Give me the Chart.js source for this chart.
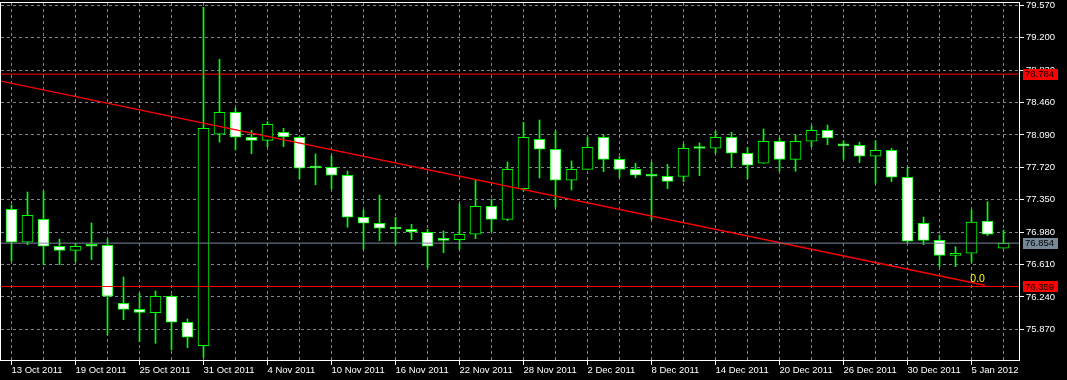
<!DOCTYPE html>
<html>
<head>
<meta charset="utf-8">
<title>Daily candles</title>
<script src="https://cdn.jsdelivr.net/npm/chart.js@4.4.0/dist/chart.umd.min.js"></script>
<style>
    html, body { margin: 0; padding: 0; background: #000; }
    #wrap { width: 1067px; height: 380px; }
</style>
</head>
<body>
<div id="wrap"><canvas id="chart" width="1067" height="380"></canvas></div>
<script>
// trading days, one per candle
const dates = [
    '13 Oct 2011', '14 Oct 2011', '17 Oct 2011', '18 Oct 2011', '19 Oct 2011', '20 Oct 2011', '21 Oct 2011',
    '24 Oct 2011', '25 Oct 2011', '26 Oct 2011', '27 Oct 2011', '28 Oct 2011', '31 Oct 2011',
    '1 Nov 2011', '2 Nov 2011', '3 Nov 2011', '4 Nov 2011', '7 Nov 2011', '8 Nov 2011', '9 Nov 2011',
    '10 Nov 2011', '11 Nov 2011', '14 Nov 2011', '15 Nov 2011', '16 Nov 2011', '17 Nov 2011', '18 Nov 2011',
    '21 Nov 2011', '22 Nov 2011', '23 Nov 2011', '24 Nov 2011', '25 Nov 2011', '28 Nov 2011', '29 Nov 2011',
    '30 Nov 2011', '1 Dec 2011', '2 Dec 2011', '5 Dec 2011', '6 Dec 2011', '7 Dec 2011', '8 Dec 2011',
    '9 Dec 2011', '12 Dec 2011', '13 Dec 2011', '14 Dec 2011', '15 Dec 2011', '16 Dec 2011', '19 Dec 2011',
    '20 Dec 2011', '21 Dec 2011', '22 Dec 2011', '23 Dec 2011', '26 Dec 2011', '27 Dec 2011', '28 Dec 2011',
    '29 Dec 2011', '30 Dec 2011', '2 Jan 2012', '3 Jan 2012', '4 Jan 2012', '5 Jan 2012', '6 Jan 2012',
    '9 Jan 2012'
];

const opens = [
    77.240, 76.864, 77.126, 76.818, 76.772, 76.821, 76.829, 76.167, 76.098, 76.060, 76.247, 75.950, 75.683,
    78.097, 78.348, 78.063, 78.028, 78.120, 78.063, 77.716, 77.720, 77.629, 77.149, 77.081, 77.019, 77.012,
    76.978, 76.890, 76.893, 76.955, 77.275, 77.126, 77.476, 78.040, 77.926, 77.572, 77.697, 78.063, 77.811,
    77.697, 77.621, 77.617, 77.617, 77.937, 77.937, 78.063, 77.880, 77.766, 78.017, 77.811, 78.017, 78.143,
    77.967, 77.971, 77.846, 77.914, 77.606, 77.081, 76.886, 76.715, 76.738, 77.107, 76.795
];
const highs = [
    77.290, 77.438, 77.449, 76.901, 76.852, 77.084, 76.901, 76.467, 76.281, 76.307, 76.262, 75.988, 79.547,
    78.953, 78.394, 78.143, 78.241, 78.165, 78.072, 77.872, 77.849, 77.678, 77.232, 77.404, 77.149, 77.069,
    77.012, 76.993, 77.301, 77.575, 77.355, 77.781, 78.234, 78.260, 78.135, 77.792, 78.063, 78.086, 77.841,
    77.766, 77.777, 77.754, 77.983, 77.998, 78.131, 78.120, 77.948, 78.157, 78.055, 78.089, 78.192, 78.203,
    78.024, 78.006, 78.024, 77.937, 77.720, 77.153, 76.944, 76.813, 77.232, 77.327, 77.004
];
const lows = [
    76.650, 76.836, 76.604, 76.608, 76.642, 76.665, 75.808, 75.980, 75.728, 75.710, 75.634, 75.660, 75.550,
    78.006, 77.918, 77.875, 77.955, 77.955, 77.590, 77.521, 77.472, 77.035, 76.784, 76.882, 76.836, 76.893,
    76.570, 76.745, 76.784, 76.905, 76.985, 77.110, 77.449, 77.598, 77.267, 77.461, 77.697, 77.670, 77.601,
    77.601, 77.126, 77.476, 77.556, 77.624, 77.880, 77.716, 77.590, 77.766, 77.678, 77.674, 77.955, 77.978,
    77.811, 77.773, 77.537, 77.556, 76.859, 76.836, 76.585, 76.585, 76.635, 76.939, 76.795
];
const closes = [
    76.864, 77.172, 76.818, 76.772, 76.818, 76.818, 76.247, 76.098, 76.064, 76.247, 75.950, 75.779, 78.165,
    78.348, 78.063, 78.028, 78.211, 78.066, 77.709, 77.712, 77.629, 77.149, 77.081, 77.024, 77.015, 76.981,
    76.818, 76.886, 76.955, 77.275, 77.126, 77.697, 78.063, 77.926, 77.572, 77.697, 77.948, 77.811, 77.697,
    77.629, 77.618, 77.560, 77.937, 77.935, 78.063, 77.880, 77.743, 78.017, 77.811, 78.017, 78.143, 78.055,
    77.965, 77.846, 77.914, 77.606, 76.875, 76.886, 76.715, 76.738, 77.095, 76.955, 76.854
];

// price axis labels
const yTicks = [79.570, 79.200, 78.830, 78.460, 78.090, 77.720, 77.350, 76.980, 76.610, 76.240, 75.870];

// horizontal levels and the drawn trend line
const redLevels = [78.784, 76.359];
const lastPrice = 76.854;
const trendX = [-0.656, 60.84];
const trendY = [78.703, 76.373];
const trendLabel = '0.0';

const X_MIN = -0.656;
const X_MAX = 63.03;
const Y_MIN = 75.508;
const Y_MAX = 79.596;

const GREEN = '#00ff00';
const GRID = '#778899';
const FONT = { family: '"Liberation Sans", Arial, sans-serif', size: 9.5 };

const levelLine = (value, color) => ({
    type: 'line',
    data: [{ x: X_MIN, y: value }, { x: X_MAX, y: value }],
    borderColor: color,
    borderWidth: 1,
    pointRadius: 0,
    order: 0
});

const chartPlugin = {
    id: 'mtLook',
    beforeDraw(chart) {
        const ctx = chart.ctx;
        ctx.save();
        ctx.fillStyle = '#000';
        ctx.fillRect(0, 0, chart.width, chart.height);
        ctx.restore();
    },
    afterDraw(chart) {
        const ctx = chart.ctx;
        const area = chart.chartArea;
        const xs = chart.scales.x;
        const ys = chart.scales.y;

        // frame
        ctx.save();
        ctx.strokeStyle = '#fff';
        ctx.lineWidth = 1;
        ctx.strokeRect(Math.round(area.left) - 0.5, Math.round(area.top) - 0.5,
            Math.round(area.right - area.left), Math.round(area.bottom - area.top));

        // price tags on the right axis
        const tag = (value, bg, fg) => {
            const y = ys.getPixelForValue(value);
            ctx.fillStyle = bg;
            ctx.fillRect(area.right + 3, Math.round(y - 5), 35, 11);
            ctx.fillStyle = fg;
            ctx.font = `${FONT.size}px ${FONT.family}`;
            ctx.textBaseline = 'middle';
            ctx.textAlign = 'left';
            ctx.fillText(value.toFixed(3), area.right + 5, y + 0.5);
        };
        redLevels.forEach(v => tag(v, '#ff0000', '#000'));
        tag(lastPrice, GRID, '#000');

        // label at the end of the trend line
        ctx.fillStyle = '#ffff00';
        ctx.font = `${FONT.size + 1}px ${FONT.family}`;
        ctx.textAlign = 'right';
        ctx.textBaseline = 'alphabetic';
        ctx.fillText(trendLabel, xs.getPixelForValue(trendX[1]), ys.getPixelForValue(trendY[1]) - 3);
        ctx.restore();
    }
};

const xTickValues = dates.map((d, i) => i).filter(i => i % 2 === 0);

new Chart(document.getElementById('chart'), {
    type: 'bar',
    data: {
        datasets: [
            // body
            {
                data: dates.map((d, i) => ({ x: i, y: [opens[i], closes[i]] })),
                backgroundColor: opens.map((o, i) => (o > closes[i] ? '#ffffff' : '#000000')),
                borderColor: GREEN,
                borderWidth: 1,
                borderSkipped: false,
                barThickness: 11,
                minBarLength: 2,
                grouped: false,
                order: 1
            },
            // wick
            {
                data: dates.map((d, i) => ({ x: i, y: [lows[i], highs[i]] })),
                backgroundColor: GREEN,
                borderWidth: 0,
                barThickness: 1,
                grouped: false,
                order: 2
            },
            levelLine(redLevels[0], '#ff0000'),
            levelLine(redLevels[1], '#ff0000'),
            levelLine(lastPrice, GRID),
            {
                type: 'line',
                data: trendX.map((x, i) => ({ x: x, y: trendY[i] })),
                borderColor: '#ff0000',
                borderWidth: 1.3,
                pointRadius: 0,
                order: 0
            }
        ]
    },
    options: {
        responsive: false,
        animation: false,
        layout: { padding: { top: 3, left: 1, right: 0, bottom: 0 } },
        plugins: {
            legend: { display: false },
            tooltip: { enabled: false }
        },
        scales: {
            x: {
                type: 'linear',
                offset: false,
                min: X_MIN,
                max: X_MAX,
                afterBuildTicks: scale => {
                    scale.ticks = xTickValues.map(v => ({ value: v }));
                },
                afterFit: scale => {
                    scale.height = 19;
                    scale.paddingLeft = 0;
                    scale.paddingRight = 0;
                },
                ticks: {
                    color: '#fff',
                    font: FONT,
                    align: 'start',
                    padding: 0,
                    maxRotation: 0,
                    autoSkip: false,
                    callback: v => (v % 4 === 0 ? dates[v] : '')
                },
                grid: {
                    offset: false,
                    color: GRID,
                    lineWidth: 1,
                    tickLength: 4,
                    tickColor: c => (c.tick && c.tick.value % 4 === 0 ? '#fff' : 'rgba(0,0,0,0)'),
                    tickBorderDash: []
                },
                border: { display: false, dash: [3, 3] }
            },
            y: {
                type: 'linear',
                position: 'right',
                min: Y_MIN,
                max: Y_MAX,
                afterBuildTicks: scale => {
                    scale.ticks = yTicks.map(v => ({ value: v }));
                },
                afterFit: scale => {
                    scale.width = 47;
                    scale.paddingTop = 0;
                    scale.paddingBottom = 0;
                },
                ticks: {
                    color: '#fff',
                    font: FONT,
                    padding: 2,
                    callback: v => v.toFixed(3)
                },
                grid: {
                    color: GRID,
                    lineWidth: 1,
                    tickLength: 4,
                    tickColor: '#fff',
                    tickBorderDash: []
                },
                border: { display: false, dash: [3, 3] }
            }
        }
    },
    plugins: [chartPlugin]
});
</script>
</body>
</html>
